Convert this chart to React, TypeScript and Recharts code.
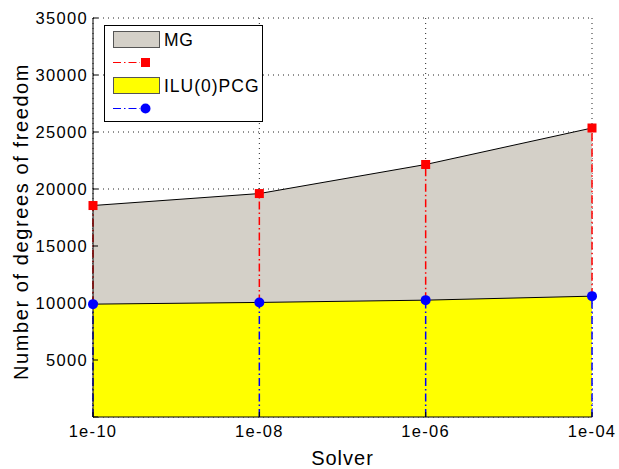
import React from 'react';
import { ComposedChart, Area, Line, ErrorBar, XAxis, YAxis, CartesianGrid, Legend } from 'recharts';

// solver tolerance on the x axis
const solvers = ['1e-10', '1e-08', '1e-06', '1e-04'];
// degrees of freedom per solver
const mgDofs = [18550, 19600, 22150, 25350];
const iluDofs = [9900, 10050, 10250, 10600];
const yTicks = [0, 5000, 10000, 15000, 20000, 25000, 30000, 35000];

// red stems are hidden behind the yellow patch, so they only show above it
const data = solvers.map((solver, i) => ({
  solver,
  mg: mgDofs[i],
  ilu: iluDofs[i],
  mgStem: [mgDofs[i] - iluDofs[i], 0],
  iluStem: [iluDofs[i], 0],
}));

const FONT = '"Liberation Sans", Arial, Helvetica, sans-serif';
const DASH_DOT = '8 3 1.5 3';

const RedSquare = (props: any) => {
  const { cx, cy, index } = props;
  if (cx == null || cy == null) return <g key={`sq-${index}`} />;
  return <rect key={`sq-${index}`} x={cx - 4.5} y={cy - 4.5} width={9} height={9} fill="#ff0000" />;
};

const BlueDot = (props: any) => {
  const { cx, cy, index } = props;
  if (cx == null || cy == null) return <g key={`dot-${index}`} />;
  return <circle key={`dot-${index}`} cx={cx} cy={cy} r={5} fill="#0000ff" />;
};

const LegendBox = () => (
  <svg width={159} height={97} style={{ display: 'block', fontFamily: FONT }}>
    <rect x={0.5} y={0.5} width={158} height={96} fill="#fff" stroke="#000" />
    <rect x={9.5} y={6.5} width={46} height={16} fill="#d4d0c8" stroke="#555" />
    <text x={60} y={21} fontSize={17.5} fill="#000" letterSpacing={0.6}>MG</text>
    <line x1={9} x2={36} y1={37.5} y2={37.5} stroke="#ff0000" strokeDasharray={DASH_DOT} />
    <rect x={37} y={33} width={9} height={9} fill="#ff0000" />
    <rect x={9.5} y={52.5} width={46} height={16} fill="#ffff00" stroke="#555" />
    <text x={60} y={67} fontSize={17.5} fill="#000" letterSpacing={1}>ILU(0)PCG</text>
    <line x1={9} x2={36} y1={83.5} y2={83.5} stroke="#0000ff" strokeDasharray={DASH_DOT} />
    <circle cx={41.5} cy={83.5} r={5} fill="#0000ff" />
  </svg>
);

const YLabel = (props: any) => {
  const { viewBox } = props;
  const cx = viewBox.x + 21;
  const cy = viewBox.y + viewBox.height / 2 + 4;
  return (
    <text x={cx} y={cy} transform={`rotate(-90 ${cx} ${cy})`} textAnchor="middle" dominantBaseline="central"
      fontSize={20} fill="#000" letterSpacing={1.6}>
      Number of degrees of freedom
    </text>
  );
};

export default function App() {
  return (
    <div style={{ position: 'absolute', left: 0, top: 0, width: 619, height: 469, background: '#fff', fontFamily: FONT }}>
      <ComposedChart width={619} height={469} data={data} margin={{ top: 18, right: 27, bottom: 0, left: 0 }}>
        <CartesianGrid stroke="#222" strokeDasharray="1 4" />
        <XAxis
          dataKey="solver"
          interval={0}
          height={52}
          tickSize={-5}
          tickMargin={13}
          tick={{ fontSize: 16.5, fill: '#000', letterSpacing: 1.3 }}
          axisLine={{ stroke: '#000' }}
          tickLine={{ stroke: '#000' }}
          label={{ value: 'Solver', position: 'insideBottom', offset: 4, fontSize: 20, fill: '#000', letterSpacing: 1 }}
        />
        <XAxis xAxisId="top" dataKey="solver" orientation="top" height={0} tick={false} tickLine={false} axisLine={{ stroke: '#000' }} />
        <YAxis
          domain={[0, 35000]}
          ticks={yTicks}
          width={93}
          tickSize={-5}
          tickMargin={10}
          tickFormatter={(v: number) => (v === 0 ? '' : String(v))}
          tick={{ fontSize: 16.5, fill: '#000', letterSpacing: 1.3 }}
          axisLine={{ stroke: '#000' }}
          tickLine={{ stroke: '#000' }}
          label={YLabel}
        />
        <YAxis yAxisId="right" orientation="right" width={0} domain={[0, 35000]} tick={false} tickLine={false} axisLine={{ stroke: '#000' }} />

        <Area dataKey="mg" type="linear" fill="#d4d0c8" fillOpacity={1} stroke="#000" strokeWidth={1} isAnimationActive={false} />
        <Line dataKey="mg" stroke="none" dot={RedSquare} activeDot={false} isAnimationActive={false}>
          <ErrorBar dataKey="mgStem" width={0} stroke="#ff0000" strokeDasharray={DASH_DOT} direction="y" />
        </Line>
        <Area dataKey="ilu" type="linear" fill="#ffff00" fillOpacity={1} stroke="#000" strokeWidth={1} isAnimationActive={false} />
        <Line dataKey="ilu" stroke="none" dot={BlueDot} activeDot={false} isAnimationActive={false}>
          <ErrorBar dataKey="iluStem" width={0} stroke="#0000ff" strokeDasharray={DASH_DOT} direction="y" />
        </Line>

        <Legend
          content={<LegendBox />}
          layout="horizontal"
          verticalAlign="middle"
          align="center"
          wrapperStyle={{ left: 104, top: 25, width: 159, height: 97 }}
        />
      </ComposedChart>
    </div>
  );
}
